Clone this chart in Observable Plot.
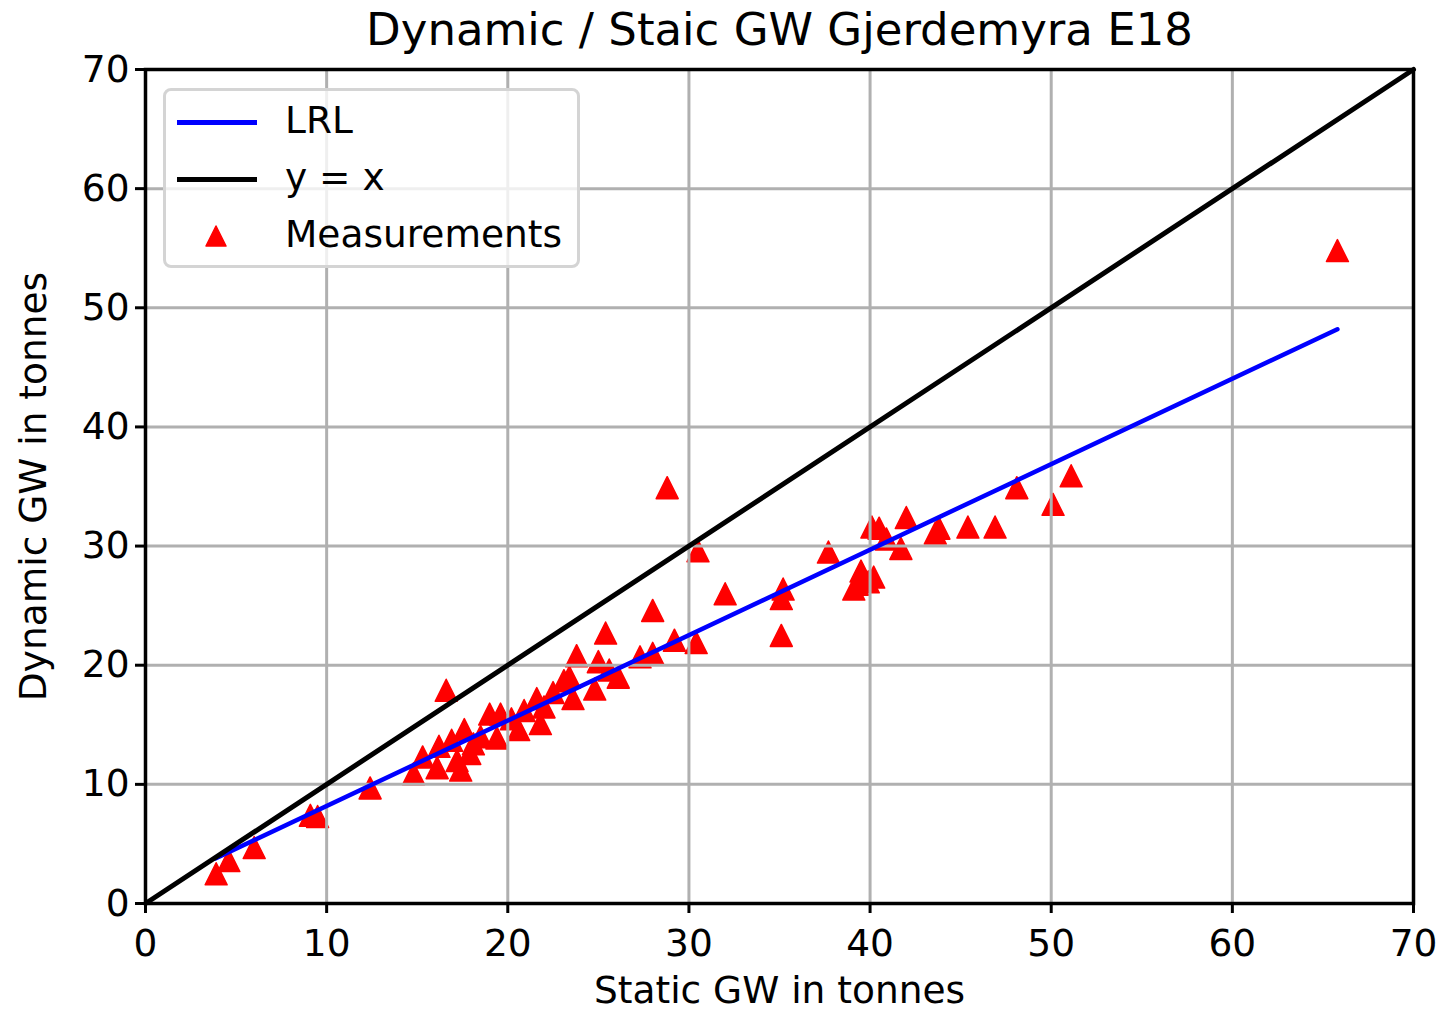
<!DOCTYPE html>
<html>
<head>
<meta charset="utf-8">
<script src="https://cdn.jsdelivr.net/npm/d3@7"></script>
<script src="https://cdn.jsdelivr.net/npm/@observablehq/plot@0.6"></script>
<style>
  html, body { margin: 0; padding: 0; background: #fff; }
  #wrap { position: relative; width: 1443px; height: 1013px; font-family: "DejaVu Sans", sans-serif; }
  #legend { position: absolute; left: 163px; top: 88px; width: 411px; height: 174px;
    border: 3px solid #d4d4d4; border-radius: 8px; background: rgba(255,255,255,0.8); box-sizing: content-box; }
  .item { position: absolute; left: 0; height: 40px; width: 400px; font-size: 37.5px; color: #000; }
  .item .lbl { position: absolute; left: 119px; top: 50%; transform: translateY(-54%); white-space: nowrap; }
  .item .ln { position: absolute; left: 11px; width: 80px; height: 5px; top: 50%; margin-top: -2.5px; }
  .item svg { position: absolute; left: 38px; top: 8px; }
</style>
</head>
<body>
<div id="wrap"></div>
<script>
const title = "Dynamic / Staic GW Gjerdemyra E18";
const xLabel = "Static GW in tonnes";
const yLabel = "Dynamic GW in tonnes";
const tickValues = [0, 10, 20, 30, 40, 50, 60, 70];

const staticGW = [3.9, 4.6, 6.0, 9.1, 9.5, 12.4, 14.8, 15.3, 16.1, 16.2, 16.6, 16.9, 17.2, 17.4, 17.6, 17.9, 18.1, 18.5, 19.0, 19.4, 19.6, 20.2, 20.6, 20.9, 21.6, 21.8, 22.0, 22.5, 23.1, 23.4, 23.6, 23.8, 24.8, 25.0, 25.4, 25.6, 26.1, 27.3, 28.0, 28.0, 28.8, 29.2, 30.4, 30.5, 32.0, 35.1, 35.1, 35.2, 37.7, 39.1, 39.3, 39.5, 39.9, 40.2, 40.1, 40.5, 40.9, 41.7, 42.0, 43.6, 43.8, 45.4, 46.9, 48.1, 50.1, 51.1, 65.8];
const dynamicGW = [2.5, 3.6, 4.7, 7.4, 7.3, 9.7, 10.9, 12.3, 11.4, 13.2, 17.9, 13.7, 12.0, 11.2, 14.6, 12.6, 13.4, 14.0, 15.9, 13.9, 15.9, 15.5, 14.6, 16.2, 17.2, 15.1, 16.5, 17.7, 18.7, 19.0, 17.2, 20.8, 18.0, 20.3, 22.7, 19.6, 19.0, 20.7, 21.0, 24.6, 34.9, 22.1, 21.9, 29.6, 26.0, 22.5, 25.6, 26.4, 29.5, 26.4, 26.8, 27.9, 27.0, 27.4, 31.6, 31.5, 30.6, 29.8, 32.4, 31.1, 31.5, 31.6, 31.6, 34.9, 33.5, 35.9, 54.8];

const lrlX = [3.86, 65.8];
const lrlY = [3.78, 48.2];
const identityX = [0, 70];
const identityY = [0, 70];

const measurements = staticGW.map((x, i) => ({x, y: dynamicGW[i]}));
const lrl = lrlX.map((x, i) => ({x, y: lrlY[i]}));
const identity = identityX.map((x, i) => ({x, y: identityY[i]}));

// matplotlib-style triangle (width == height)
const mplTriangle = {
  draw(context, size) {
    const h = Math.sqrt(size / Math.PI);
    context.moveTo(0, -h);
    context.lineTo(h, h);
    context.lineTo(-h, h);
    context.closePath();
  }
};

const chart = Plot.plot({
  width: 1443,
  height: 1013,
  marginLeft: 145,
  marginRight: 30,
  marginTop: 69,
  marginBottom: 110,
  x: {domain: [0, 70]},
  y: {domain: [0, 70]},
  style: {fontFamily: "DejaVu Sans", fontSize: "37.5px", background: "white", color: "black"},
  marks: [
    Plot.dot(measurements, {x: "x", y: "y", symbol: mplTriangle, r: 11, fill: "red", stroke: "red", strokeWidth: 1.5, strokeLinejoin: "round"}),
    Plot.gridX(tickValues, {stroke: "#b0b0b0", strokeOpacity: 1, strokeWidth: 3}),
    Plot.gridY(tickValues, {stroke: "#b0b0b0", strokeOpacity: 1, strokeWidth: 3}),
    Plot.line(lrl, {x: "x", y: "y", stroke: "#0000ff", strokeWidth: 4.5}),
    Plot.line(identity, {x: "x", y: "y", stroke: "black", strokeWidth: 5}),
    Plot.frame({stroke: "black", strokeWidth: 3.5}),
    Plot.axisX({ticks: tickValues, tickSize: 10, tickPadding: 16, strokeWidth: 3, fontSize: 37.5, label: null}),
    Plot.axisY({ticks: tickValues, tickSize: 10, tickPadding: 6, strokeWidth: 3, fontSize: 37.5, label: null}),
    Plot.text([title], {frameAnchor: "top", dy: -39, fontSize: 45, lineAnchor: "middle"}),
    Plot.text([xLabel], {frameAnchor: "bottom", dy: 87, fontSize: 37.5, lineAnchor: "middle", textAnchor: "middle"}),
    Plot.text([yLabel], {frameAnchor: "left", dx: -112, rotate: -90, fontSize: 37.5, lineAnchor: "middle", textAnchor: "middle"})
  ]
});

const wrap = document.getElementById("wrap");
wrap.appendChild(chart);

const legend = document.createElement("div");
legend.id = "legend";
const items = [
  {label: "LRL", kind: "line", color: "#0000ff", top: 11},
  {label: "y = x", kind: "line", color: "#000000", top: 68},
  {label: "Measurements", kind: "tri", color: "red", top: 125}
];
for (const it of items) {
  const d = document.createElement("div");
  d.className = "item";
  d.style.top = it.top + "px";
  if (it.kind === "line") {
    const l = document.createElement("div");
    l.className = "ln";
    l.style.background = it.color;
    d.appendChild(l);
  } else {
    d.insertAdjacentHTML("beforeend", '<svg width="24" height="24" viewBox="-12 -12 24 24"><path d="M0,-10L10,10L-10,10Z" fill="red" stroke="red" stroke-width="1.5" stroke-linejoin="round"/></svg>');
  }
  const t = document.createElement("div");
  t.className = "lbl";
  t.textContent = it.label;
  d.appendChild(t);
  legend.appendChild(d);
}
wrap.appendChild(legend);
</script>
</body>
</html>
